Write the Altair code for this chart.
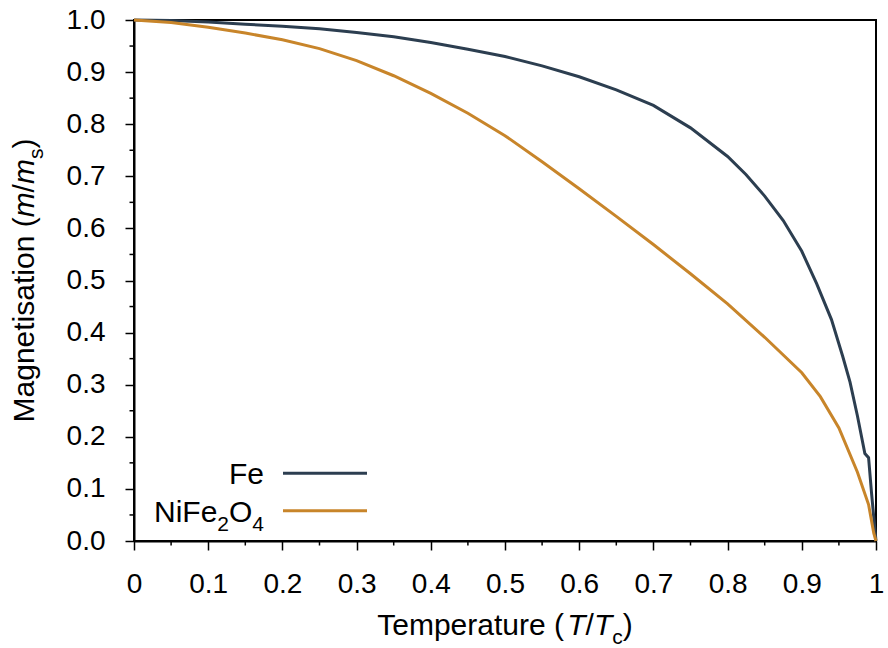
import altair as alt
import pandas as pd

# ---------------- data ----------------
fe_t = [0.0, 0.05, 0.1, 0.15, 0.2, 0.25, 0.3, 0.35, 0.4, 0.45, 0.5, 0.55, 0.6, 0.65, 0.7,
        0.75, 0.8, 0.825, 0.85, 0.875, 0.9, 0.92, 0.94, 0.955, 0.965, 0.975, 0.985,
        0.99, 0.994, 0.998, 1.0]
fe_m = [1.0, 0.999, 0.996, 0.992, 0.988, 0.983, 0.976, 0.968, 0.957, 0.944, 0.930, 0.912,
        0.891, 0.866, 0.836, 0.793, 0.738, 0.703, 0.662, 0.615, 0.556, 0.494, 0.425,
        0.355, 0.305, 0.240, 0.168, 0.160, 0.092, 0.030, 0.0]

ni_t = [0.0, 0.05, 0.1, 0.15, 0.2, 0.25, 0.3, 0.35, 0.4, 0.45, 0.5, 0.55, 0.6, 0.65, 0.7,
        0.75, 0.8, 0.85, 0.9, 0.925, 0.95, 0.975, 0.99, 0.997, 1.0]
ni_m = [1.0, 0.995, 0.986, 0.975, 0.962, 0.945, 0.922, 0.893, 0.859, 0.821, 0.778, 0.728,
        0.676, 0.623, 0.569, 0.513, 0.455, 0.391, 0.323, 0.277, 0.217, 0.132, 0.070,
        0.015, 0.0]

series_names = ["Fe", "NiFe2O4"]
series_colors = ["#2c3e50", "#c8852a"]

major_ticks = [round(i / 10, 2) for i in range(11)]
minor_ticks = [round(0.05 + i / 10, 2) for i in range(10)]

df = pd.concat([
    pd.DataFrame({"t": fe_t, "m": fe_m, "s": "Fe"}),
    pd.DataFrame({"t": ni_t, "m": ni_m, "s": "NiFe2O4"}),
])

FONT = "Liberation Sans"
F = 30
FS = 21
W = 742
H = 521

# Arial / Liberation Sans advance widths (em)
ADV = {"T": .611, "e": .556, "m": .833, "p": .556, "r": .333, "a": .556, "t": .278,
       "u": .556, " ": .278, "(": .333, ")": .333, "/": .278, "c": .5, "M": .833,
       "g": .556, "n": .556, "i": .222, "s": .5, "o": .556, "F": .611, "N": .722,
       "O": .778, "2": .556, "4": .556}


def width(txt, size):
    return sum(ADV[ch] for ch in txt) * size


xscale = alt.Scale(domain=[0, 1], nice=False, zero=False)
yscale = alt.Scale(domain=[0, 1], nice=False, zero=False)

xaxis = alt.Axis(values=major_ticks, labelExpr="format(datum.value, '~g')", title=None,
                 grid=False, tickSize=9, tickWidth=1.5, tickColor="black",
                 domainColor="black", domainWidth=2, labelFont=FONT, labelFontSize=28,
                 labelColor="black", labelPadding=20, labelFlush=False)
yaxis = alt.Axis(values=major_ticks, format=".1f", title=None, grid=False, tickSize=9,
                 tickWidth=1.5, tickColor="black", domainColor="black", domainWidth=2,
                 labelFont=FONT, labelFontSize=28, labelColor="black", labelPadding=20,
                 labelFlush=False)

X = alt.X("t:Q", scale=xscale, axis=xaxis)
Y = alt.Y("m:Q", scale=yscale, axis=yaxis)

lines = alt.Chart(df).mark_line(strokeWidth=3, clip=False).encode(
    x=X, y=Y,
    color=alt.Color("s:N", scale=alt.Scale(domain=series_names, range=series_colors),
                    legend=None),
    detail="s:N",
)

minor_x = alt.Chart(pd.DataFrame({"t": minor_ticks})).mark_rule(
    color="black", strokeWidth=1.5).encode(x=X, y=alt.value(H), y2=alt.value(H + 4.5))
minor_y = alt.Chart(pd.DataFrame({"m": minor_ticks})).mark_rule(
    color="black", strokeWidth=1.5).encode(y=Y, x=alt.value(-4.5), x2=alt.value(0))


def seg(txt, x, y, size=F, style="normal", angle=0, align="left"):
    return alt.Chart(alt.Data(values=[{"txt": txt}])).mark_text(
        font=FONT, fontSize=size, fontStyle=style, angle=angle, align=align,
        baseline="alphabetic", color="black").encode(
        x=alt.value(x), y=alt.value(y), text="txt:N")


layers = [lines, minor_x, minor_y]

# x title: Temperature (T/Tc)
xparts = [("Temperature (", "normal", F, 0), ("T", "italic", F, 0), ("/", "normal", F, 0),
          ("T", "italic", F, 0), ("c", "normal", FS, 9), (")", "normal", F, 0)]
total = sum(width(p[0], p[2]) for p in xparts)
cx = W / 2 - total / 2
base = 615
for txt, st, sz, off in xparts:
    layers.append(seg(txt, cx, base + off, sz, st))
    cx += width(txt, sz)

# y title: Magnetisation (m/ms), rotated
yparts = [("Magnetisation (", "normal", F, 0), ("m", "italic", F, 0), ("/", "normal", F, 0),
          ("m", "italic", F, 0), ("s", "normal", FS, 9), (")", "normal", F, 0)]
total = sum(width(p[0], p[2]) for p in yparts)
cy = H / 2 + total / 2
bx = -100
for txt, st, sz, off in yparts:
    layers.append(seg(txt, bx + off, cy, sz, st, angle=270))
    cy -= width(txt, sz)

# legend
layers.append(seg("Fe", 130, 464.3, F, align="right"))
lx = 130
for txt, sz, off in reversed([("NiFe", F, 0), ("2", FS, 9), ("O", F, 0), ("4", FS, 9)]):
    lx -= width(txt, sz)
    layers.append(seg(txt, lx, 501.5 + off, sz))

for name, col, yy in zip(series_names, series_colors, [453.3, 490.7]):
    layers.append(alt.Chart(alt.Data(values=[{"s": name}])).mark_rule(
        color=col, strokeWidth=3).encode(x=alt.value(149), x2=alt.value(233),
                                          y=alt.value(yy)))

chart = alt.layer(*layers).properties(
    width=W, height=H,
    autosize=alt.AutoSizeParams(type="none"),
    padding={"left": 134, "top": 20, "right": 12, "bottom": 107},
    background="white",
).configure_view(stroke="black", strokeWidth=2)

chart.save("out.html", embed_options={"renderer": "svg", "actions": False})
